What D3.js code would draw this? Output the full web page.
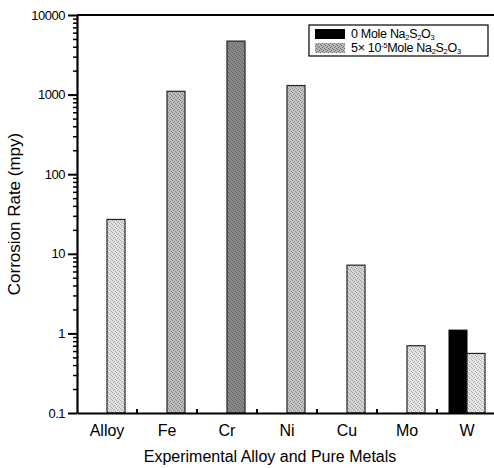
<!DOCTYPE html>
<html><head><meta charset="utf-8">
<script src="https://cdn.jsdelivr.net/npm/d3@7"></script>
<style>
body{margin:0;background:#fff;}
svg{display:block;font-family:"Liberation Sans",Arial,sans-serif;}
</style></head>
<body>
<svg id="chart" width="494" height="468"></svg>
<script>
// ---- data ----
const categories = ["Alloy","Fe","Cr","Ni","Cu","Mo","W"];
const series0 = [null, null, null, null, null, null, 1.1];        // 0 Mole Na2S2O3
const series1 = [27, 1100, 4700, 1300, 7.2, 0.7, 0.56];          // 5x10^-5 Mole Na2S2O3
const yTickValues = [0.1, 1, 10, 100, 1000, 10000];
const yTickLabels = ["0.1","1","10","100","1000","10000"];

// ---- styles ----
const shade = {Alloy:"#e2e2e2", Fe:"#bcbcbc", Cr:"#8a8a8a", Ni:"#c4c4c4", Cu:"#d6d6d6", Mo:"#e6e6e6", W:"#e8e8e8"};

const svg = d3.select("#chart");
const L = 77, T = 15, B = 413, R = 497;

const x = d3.scaleBand().domain(categories).range([L, R]).padding(0);
const xs = d3.scaleBand().domain(["s0","s1"]).range([-18, 18]).padding(0);
const y = d3.scaleLog().domain([0.1, 10000]).range([B, T]);

// stipple patterns
const defs = svg.append("defs");
categories.forEach((c, i) => {
  const p = defs.append("pattern").attr("id", "pat" + i).attr("patternUnits", "userSpaceOnUse")
    .attr("width", 4).attr("height", 4);
  p.append("rect").attr("width", 4).attr("height", 4).attr("fill", shade[c]);
  const dark = d3.color(shade[c]).darker(0.9);
  [[0,0],[2,1],[1,2],[3,3]].forEach(([a,b]) =>
    p.append("rect").attr("x", a).attr("y", b).attr("width", 1).attr("height", 1).attr("fill", dark));
});
const legPat = defs.append("pattern").attr("id", "patLeg").attr("patternUnits", "userSpaceOnUse")
  .attr("width", 4).attr("height", 4);
legPat.append("rect").attr("width", 4).attr("height", 4).attr("fill", "#b8b8b8");
[[0,0],[2,1],[1,2],[3,3]].forEach(([a,b]) =>
  legPat.append("rect").attr("x", a).attr("y", b).attr("width", 1).attr("height", 1).attr("fill", "#6a6a6a"));

// bars
const g = svg.append("g");
categories.forEach((c, i) => {
  const cx = x(c) + x.bandwidth() / 2;
  if (series0[i] != null) {
    g.append("rect").attr("x", cx + xs("s0")).attr("width", xs.bandwidth())
      .attr("y", y(series0[i])).attr("height", B - y(series0[i]))
      .attr("fill", "#000").attr("stroke", "#000").attr("stroke-width", 1);
  }
  if (series1[i] != null) {
    g.append("rect").attr("x", cx + xs("s1")).attr("width", xs.bandwidth())
      .attr("y", y(series1[i])).attr("height", B - y(series1[i]))
      .attr("fill", "url(#pat" + i + ")").attr("stroke", "#222").attr("stroke-width", 1.2);
  }
});

// y axis with minor ticks
const minor = [];
for (let d = -1; d < 4; d++) for (let k = 2; k <= 9; k++) minor.push(k * Math.pow(10, d));
svg.append("g").attr("transform", `translate(${L},0)`)
  .call(d3.axisLeft(y).tickValues(minor).tickSize(4).tickFormat(""))
  .call(a => a.select(".domain").remove())
  .selectAll("line").attr("stroke", "#000").attr("stroke-width", 1.5);
const yAx = svg.append("g").attr("transform", `translate(${L},0)`)
  .call(d3.axisLeft(y).tickValues(yTickValues).tickSize(9).tickSizeOuter(0)
    .tickFormat((d, i) => yTickLabels[i]).tickPadding(3));
yAx.select(".domain").attr("stroke", "#000").attr("stroke-width", 2.2);
yAx.selectAll("line").attr("stroke", "#000").attr("stroke-width", 2);
yAx.selectAll("text").attr("font-size", 13).attr("fill", "#000")
  .attr("font-family", "'Liberation Sans', Arial, sans-serif").attr("letter-spacing", -0.5);

// x axis
const xAx = svg.append("g").attr("transform", `translate(0,${B})`)
  .call(d3.axisBottom(x).tickSize(0).tickPadding(12));
xAx.select(".domain").attr("stroke", "#000").attr("stroke-width", 2.2);
xAx.selectAll("text").attr("font-size", 16).attr("fill", "#000")
  .attr("font-family", "'Liberation Sans', Arial, sans-serif");
// boundary ticks between categories (pointing inward)
svg.append("g").selectAll("line").data(categories.slice(1)).join("line")
  .attr("x1", d => x(d)).attr("x2", d => x(d)).attr("y1", B).attr("y2", B - 4)
  .attr("stroke", "#000").attr("stroke-width", 2);

// top frame line
svg.append("line").attr("x1", L).attr("x2", 494).attr("y1", T).attr("y2", T)
  .attr("stroke", "#000").attr("stroke-width", 2.2);

// axis titles
svg.append("text").attr("x", 270).attr("y", 462).attr("text-anchor", "middle")
  .attr("font-size", 16).text("Experimental Alloy and Pure Metals");
svg.append("text").attr("transform", "translate(20,214) rotate(-90)").attr("text-anchor", "middle")
  .attr("font-size", 17).text("Corrosion Rate (mpy)");

// legend
const lg = svg.append("g").attr("transform", "translate(309,25)");
lg.append("rect").attr("width", 179).attr("height", 31).attr("fill", "#fff")
  .attr("stroke", "#000").attr("stroke-width", 1.2);
lg.append("rect").attr("x", 6).attr("y", 4).attr("width", 30).attr("height", 10).attr("fill", "#000");
lg.append("rect").attr("x", 6).attr("y", 18).attr("width", 30).attr("height", 10).attr("fill", "url(#patLeg)");
const t1 = lg.append("text").attr("x", 42).attr("y", 13).attr("font-size", 12.5).attr("letter-spacing", -0.3);
t1.append("tspan").text("0 Mole Na");
t1.append("tspan").attr("font-size", 7.5).attr("dy", 2).text("2");
t1.append("tspan").attr("dy", -2).text("S");
t1.append("tspan").attr("font-size", 7.5).attr("dy", 2).text("2");
t1.append("tspan").attr("dy", -2).text("O");
t1.append("tspan").attr("font-size", 7.5).attr("dy", 2).text("3");
const t2 = lg.append("text").attr("x", 42).attr("y", 27).attr("font-size", 12.5).attr("letter-spacing", -0.3);
t2.append("tspan").text("5\u00d7 10");
t2.append("tspan").attr("font-size", 7.5).attr("dy", -4).text("-5");
t2.append("tspan").attr("dy", 4).text("Mole Na");
t2.append("tspan").attr("font-size", 7.5).attr("dy", 2).text("2");
t2.append("tspan").attr("dy", -2).text("S");
t2.append("tspan").attr("font-size", 7.5).attr("dy", 2).text("2");
t2.append("tspan").attr("dy", -2).text("O");
t2.append("tspan").attr("font-size", 7.5).attr("dy", 2).text("3");
</script>
</body></html>
